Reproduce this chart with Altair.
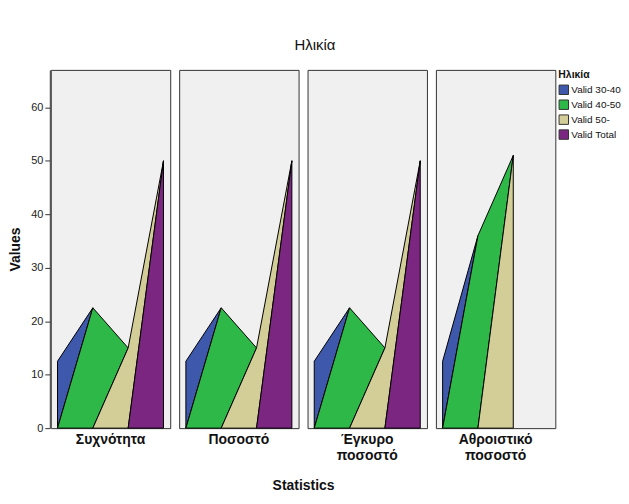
import altair as alt
import pandas as pd

categories = ["Valid 30-40", "Valid 40-50", "Valid 50-", "Valid Total"]
stats = ["Συχνότητα", "Ποσοστό", "Έγκυρο\nποσοστό", "Αθροιστικό\nποσοστό"]
values = {
    "Συχνότητα": [12.5, 22.5, 15, 50],
    "Ποσοστό": [12.5, 22.5, 15, 50],
    "Έγκυρο\nποσοστό": [12.5, 22.5, 15, 50],
    "Αθροιστικό\nποσοστό": [12.5, 36, 51],
}
colors = ["#3E58AC", "#2EB848", "#D3CE97", "#7B2681"]

rows = []
for s in stats:
    v = values[s]
    n = len(v)
    for i in range(n):
        cat = categories[i]
        if i - 1 >= 0:
            rows.append({"stat": s, "cat": cat, "x": i - 1, "y": 0, "y2": 0})
        rows.append({"stat": s, "cat": cat, "x": i, "y": v[i], "y2": 0})
        if i + 1 < n:
            rows.append({"stat": s, "cat": cat, "x": i + 1, "y": v[i + 1], "y2": v[i + 1]})
df = pd.DataFrame(rows)

base = alt.Chart(df).mark_area(
    stroke="black", strokeWidth=1, strokeJoin="miter", opacity=1, fillOpacity=1
).encode(
    x=alt.X("x:Q", scale=alt.Scale(domain=[-0.19, 3.19], nice=False, zero=False), axis=None),
    y=alt.Y("y:Q", scale=alt.Scale(domain=[0, 67], nice=False),
            axis=alt.Axis(values=[0, 10, 20, 30, 40, 50, 60], grid=False, title="Values",
                          titleFontWeight="bold", titleFontSize=14, titleFont="Liberation Sans",
                          labelFont="Liberation Sans", labelFontSize=11, labelColor="#222",
                          tickColor="#333", domainColor="#333", tickSize=5, titlePadding=8,
                          titleColor="#111")),
    y2="y2:Q",
    color=alt.Color("cat:N", scale=alt.Scale(domain=categories, range=colors),
                    legend=alt.Legend(title="Ηλικία", symbolType="square", symbolSize=90,
                                      symbolStrokeColor="#333", symbolStrokeWidth=1,
                                      titleFontSize=10.5, labelFontSize=10, labelOffset=2,
                                      titleFont="Liberation Sans", labelFont="Liberation Sans",
                                      rowPadding=0, offset=2, padding=0, symbolOpacity=1,
                                      titlePadding=4,
                                      labelColor="#111", titleColor="#111")),
    detail="cat:N",
).properties(width=120, height=360)

chart = base.facet(
    column=alt.Column("stat:N", sort=stats, title="Statistics",
                      header=alt.Header(labelOrient="bottom", titleOrient="bottom",
                                        labelExpr="split(datum.value, '\\n')",
                                        labelFont="Liberation Sans", labelFontSize=14,
                                        labelFontWeight="bold", labelPadding=2,
                                        labelLineHeight=16,
                                        titleFont="Liberation Sans", titleFontSize=14,
                                        titleFontWeight="bold", titlePadding=6,
                                        labelColor="#111", titleColor="#111")),
    spacing=7,
).properties(
    title=alt.TitleParams("Ηλικία", fontSize=15, fontWeight="normal", font="Liberation Sans",
                          anchor="middle", offset=16, color="#111"),
    padding={"left": 0, "right": 0, "top": 29, "bottom": 0},
).configure(background="white").configure_view(fill="#F0F0F0", stroke="#333", strokeWidth=1)

chart.save("out.html", embed_options={"renderer": "svg", "actions": False})
